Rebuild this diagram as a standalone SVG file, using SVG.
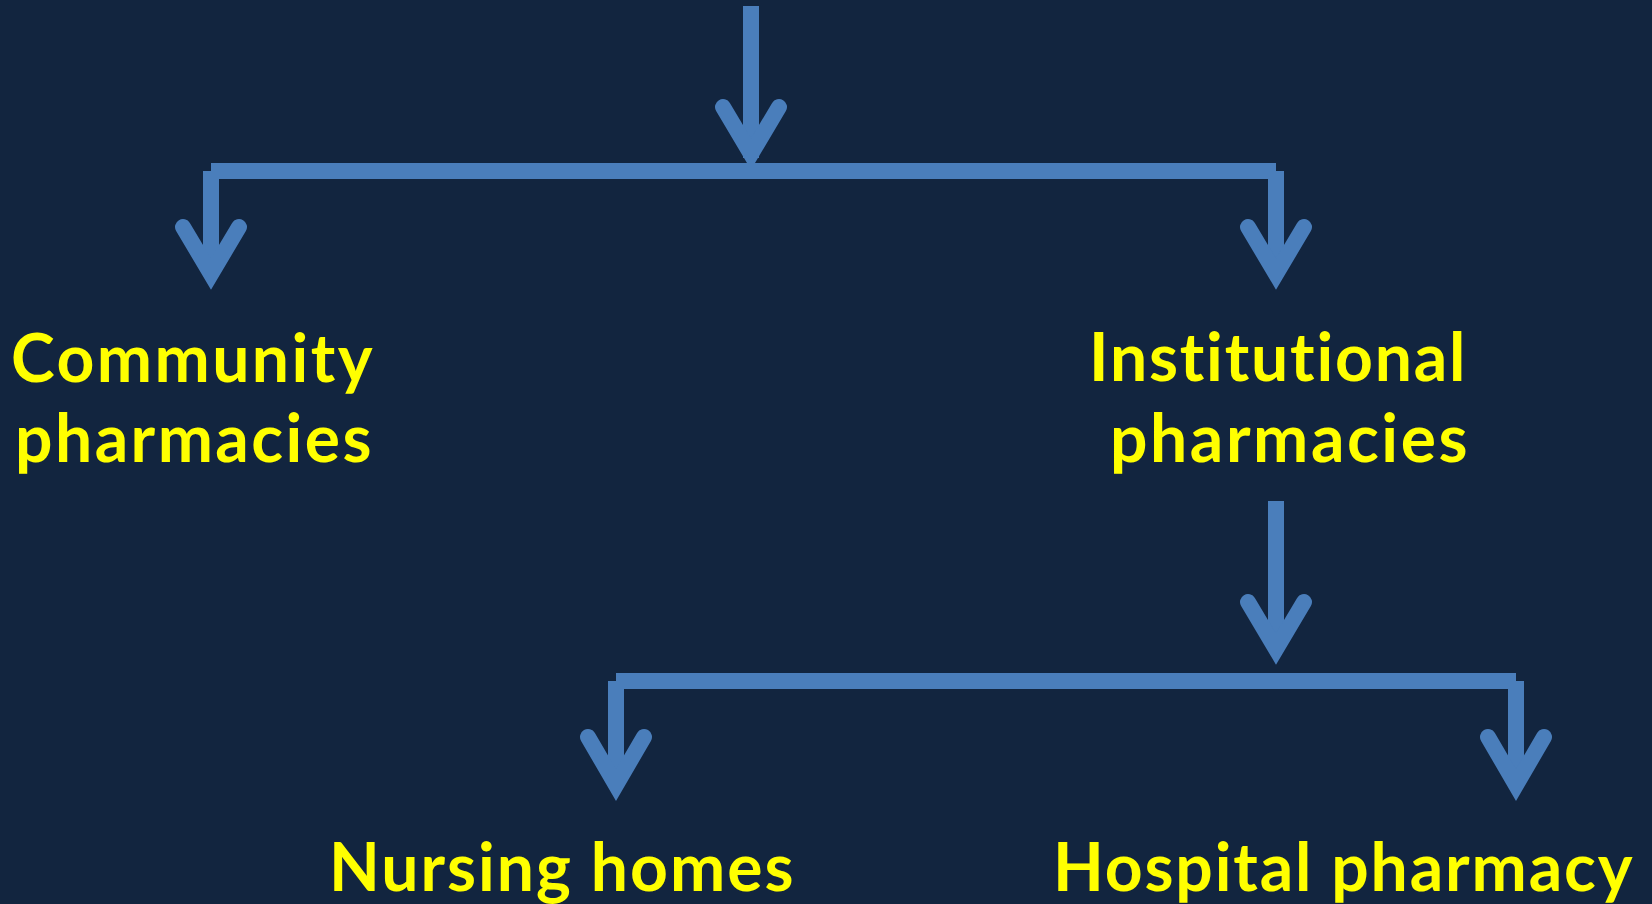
<svg xmlns="http://www.w3.org/2000/svg" width="1652" height="904" viewBox="0 0 1652 904">
  <style>
    .bg { fill: #12253f; }
    .shaft { stroke: #4a7ebb; stroke-width: 16; fill: none; stroke-linecap: butt; }
    .head { stroke: #4a7ebb; stroke-width: 16; fill: none; stroke-linecap: round; stroke-linejoin: miter; stroke-miterlimit: 6; }
    .label { font-family: Lato, "Open Sans", "Liberation Sans", sans-serif; font-weight: 700; font-size: 66px; fill: #ffff00; letter-spacing: 0.5px; font-variant-ligatures: none; font-feature-settings: "liga" 0, "clig" 0, "dlig" 0, "calt" 0; }
  </style>
  <rect class="bg" x="0" y="0" width="1652" height="904"/>

  <!-- connectors -->
  <g id="connectors">
    <!-- incoming arrow at the top -->
    <line class="shaft" x1="751" y1="6" x2="751" y2="158"/>
    <polyline class="head" points="723,107 751,154 779,107"/>
    <!-- first split -->
    <line class="shaft" x1="211" y1="171" x2="1276" y2="171"/>
    <line class="shaft" x1="211" y1="171" x2="211" y2="272"/>
    <polyline class="head" points="183,227 211,274 239,227"/>
    <line class="shaft" x1="1276" y1="171" x2="1276" y2="272"/>
    <polyline class="head" points="1248,227 1276,274 1304,227"/>
    <!-- from institutional pharmacies -->
    <line class="shaft" x1="1276" y1="501" x2="1276" y2="647"/>
    <polyline class="head" points="1248,602 1276,649 1304,602"/>
    <!-- second split -->
    <line class="shaft" x1="616" y1="681" x2="1516" y2="681"/>
    <line class="shaft" x1="616" y1="681" x2="616" y2="783"/>
    <polyline class="head" points="588,737 616,785 644,737"/>
    <line class="shaft" x1="1516" y1="681" x2="1516" y2="783"/>
    <polyline class="head" points="1488,737 1516,785 1544,737"/>
  </g>

  <g id="community">
    <text class="label" x="11" y="382" textLength="362" lengthAdjust="spacing">Community</text>
    <text class="label" x="15" y="462" textLength="357" lengthAdjust="spacing">pharmacies</text>
  </g>

  <g id="institutional">
    <text class="label" x="1089" y="381" textLength="377" lengthAdjust="spacing">Institutional</text>
    <text class="label" x="1110" y="462" textLength="358" lengthAdjust="spacing">pharmacies</text>
  </g>

  <g id="nursing-homes">
    <text class="label" x="329" y="891" textLength="465" lengthAdjust="spacing">Nursing homes</text>
  </g>

  <g id="hospital-pharmacy">
    <text class="label" x="1053" y="891" textLength="580" lengthAdjust="spacing">Hospital pharmacy</text>
  </g>
</svg>
